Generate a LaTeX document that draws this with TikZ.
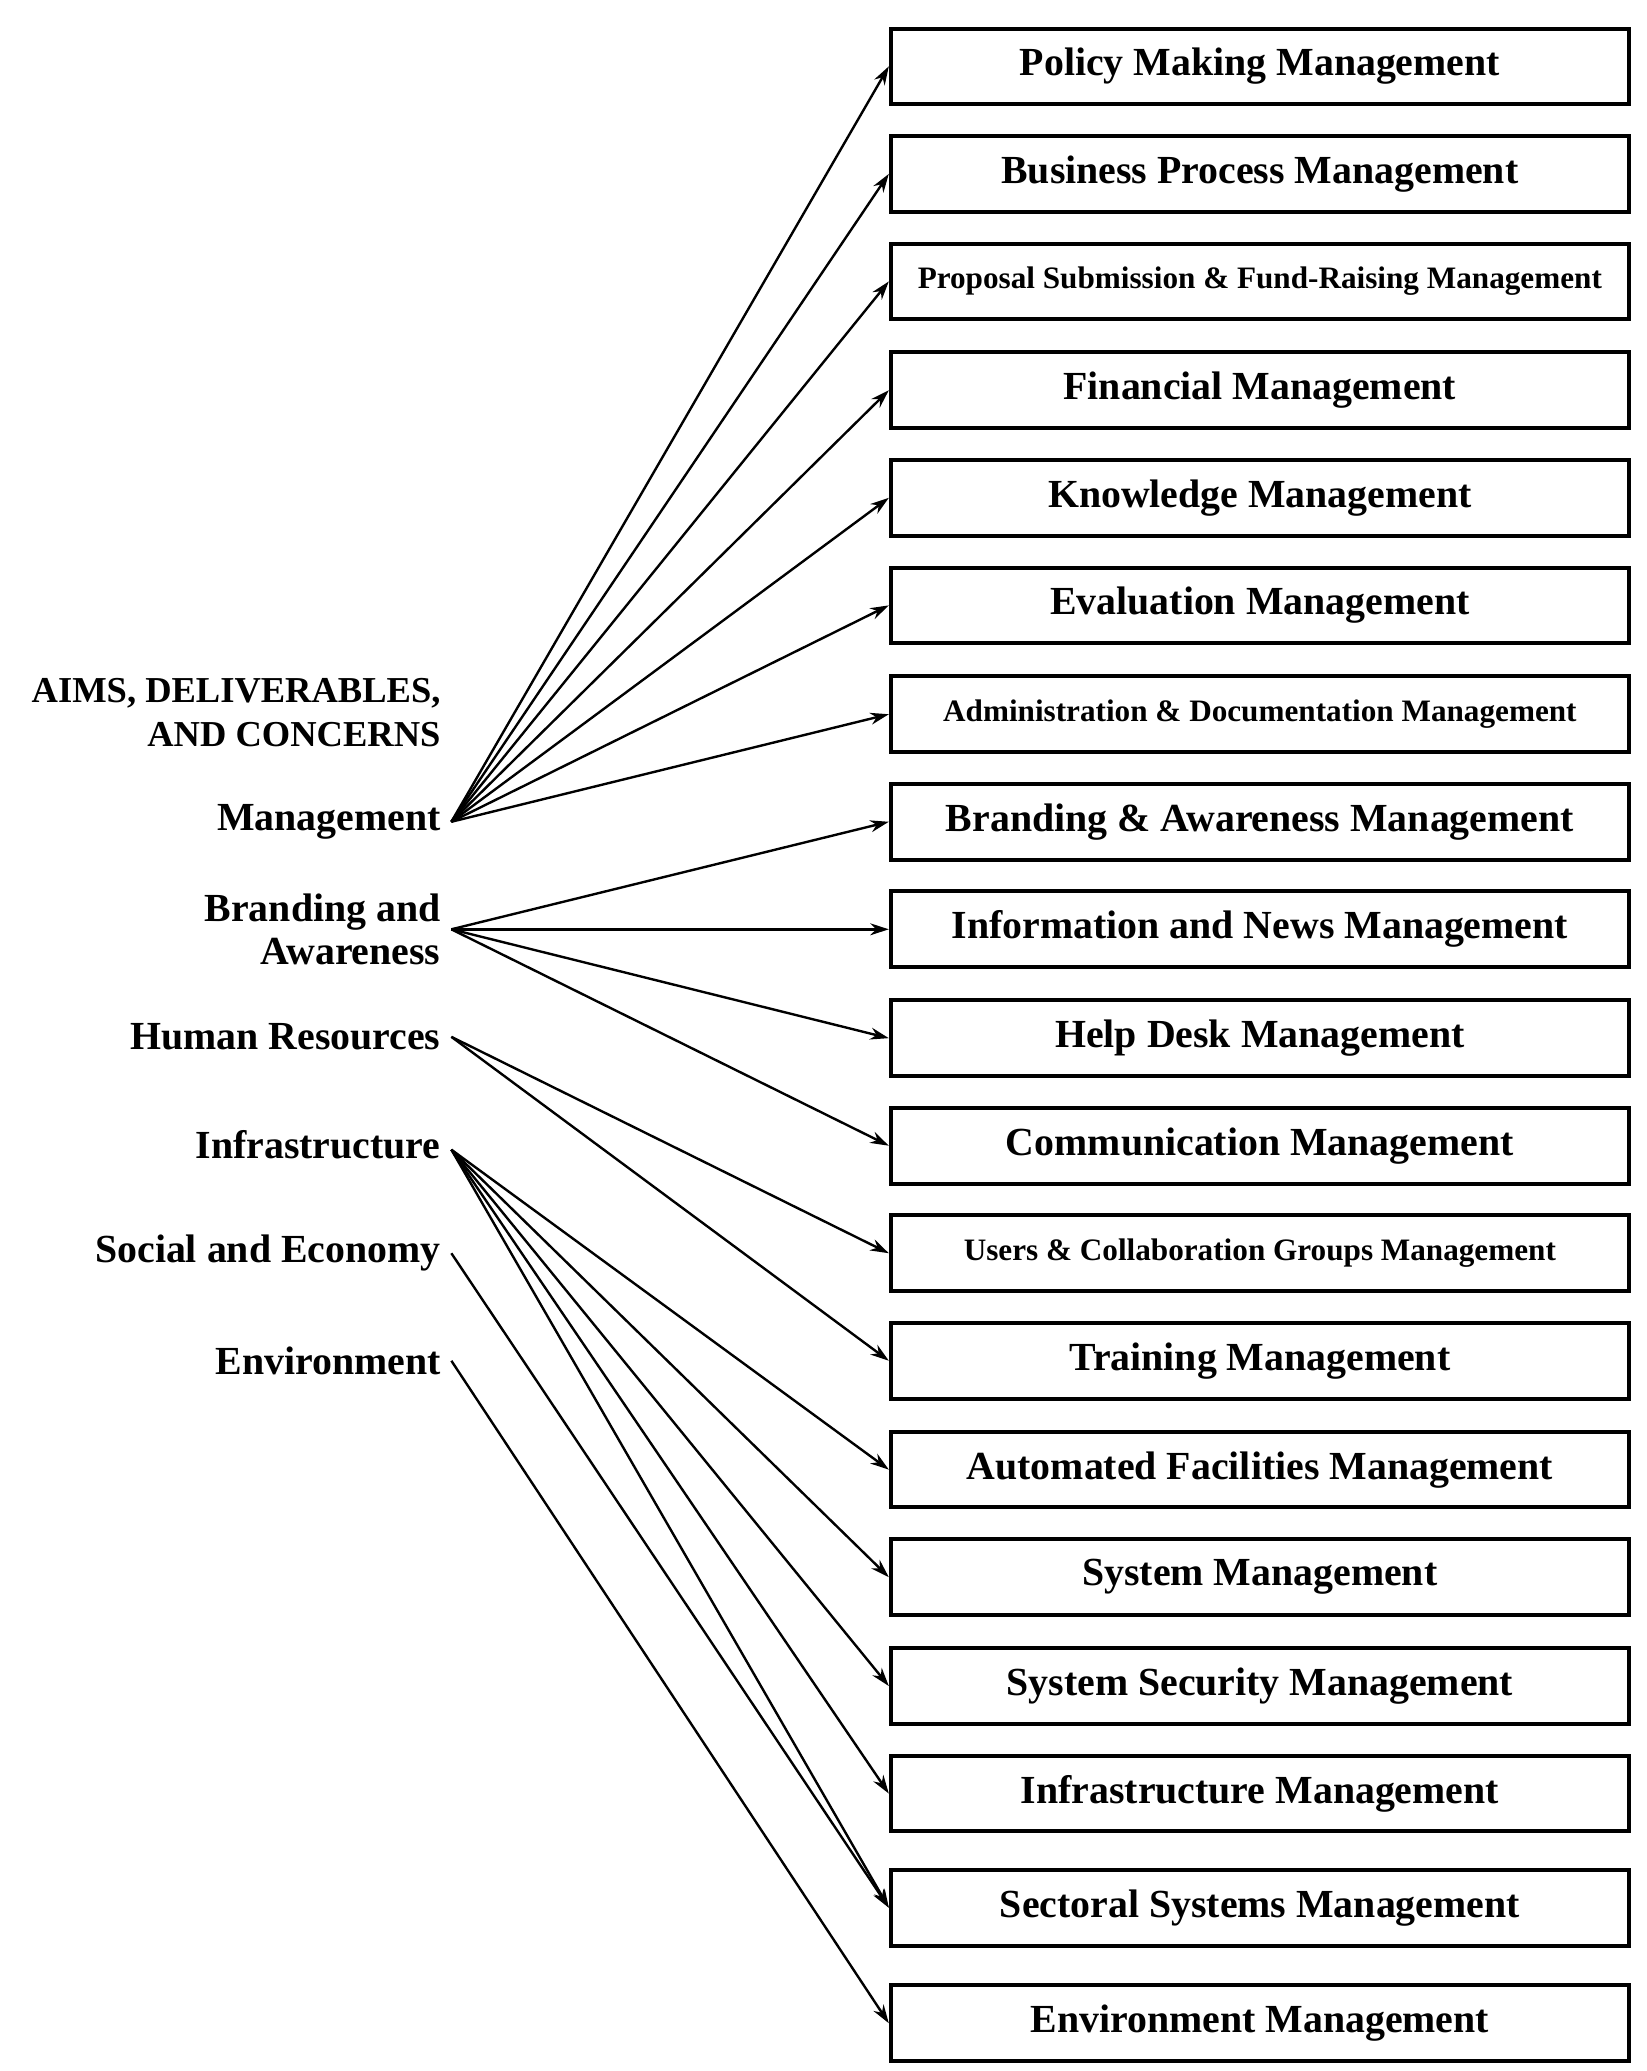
\documentclass[tikz,border=0pt]{standalone}
\usepackage{fontspec}
\setmainfont{Liberation Serif}
\usetikzlibrary{arrows.meta}
\begin{document}
\begin{tikzpicture}[x=1pt,y=-1pt,
 bx/.style={draw,line width=3pt,minimum width=556pt,minimum height=57pt,inner sep=0pt,font=\bfseries\fontsize{30}{34}\selectfont},
 sm/.style={font=\bfseries\fontsize{23.5}{28}\selectfont},
 lb/.style={anchor=east,align=right,inner sep=0pt,font=\bfseries\fontsize{30}{33}\selectfont},
 ar/.style={line width=1.8pt,-{Stealth[length=14pt,width=9pt]}}]
\useasboundingbox (0,0) rectangle (1240,1560);
\foreach \n/\y/\t/\s in {
 b1/50/Policy Making Management/,
 b2/131/Business Process Management/,
 b3/212/Proposal Submission \& Fund-Raising Management/sm,
 b4/294/Financial Management/,
 b5/375/Knowledge Management/,
 b6/456/Evaluation Management/,
 b7/538/Administration \& Documentation Management/sm,
 b8/619/Branding \& Awareness Management/,
 b9/700/Information and News Management/,
 b10/782/Help Desk Management/,
 b11/863/Communication Management/,
 b12/944/Users \& Collaboration Groups Management/sm,
 b13/1025/Training Management/,
 b14/1107/Automated Facilities Management/,
 b15/1188/System Management/,
 b16/1270/System Security Management/,
 b17/1351/Infrastructure Management/,
 b18/1437/Sectoral Systems Management/,
 b19/1524/Environment Management/}
 {\node[bx,\s] (\n) at (949,\y) {\t};}
\node[lb,font=\bfseries\fontsize{27.5}{33}\selectfont] (title) at (332,537) {AIMS, DELIVERABLES,\\AND CONCERNS};
\node[lb] (lm) at (332,619) {Management};
\node[lb] (lbr) at (332,700) {Branding and\\Awareness};
\node[lb] (lh) at (332,781) {Human Resources};
\node[lb] (li) at (332,862) {Infrastructure};
\node[lb] (ls) at (332,944) {Social and Economy};
\node[lb] (le) at (332,1025) {Environment};
\coordinate (sm) at (340,619);
\coordinate (sb) at (340,700);
\coordinate (sh) at (340,781);
\coordinate (si) at (340,866);
\coordinate (ss) at (340,944);
\coordinate (se) at (340,1025);
\foreach \b in {b1,b2,b3,b4,b5,b6,b7} \draw[ar] (sm) -- (\b.west);
\foreach \b in {b8,b9,b10,b11} \draw[ar] (sb) -- (\b.west);
\foreach \b in {b12,b13} \draw[ar] (sh) -- (\b.west);
\foreach \b in {b14,b15,b16,b17,b18} \draw[ar] (si) -- (\b.west);
\draw[ar] (ss) -- (b18.west);
\draw[ar] (se) -- (b19.west);
\end{tikzpicture}
\end{document}
